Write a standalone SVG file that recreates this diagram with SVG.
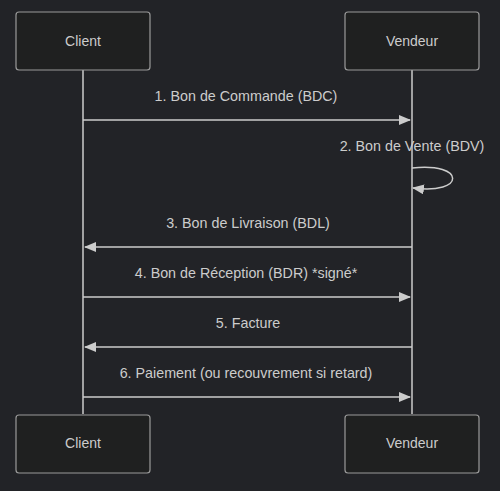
<svg xmlns="http://www.w3.org/2000/svg" width="500" height="491" viewBox="0 0 500 491">
<style>
.actor{fill:#1f2020;stroke:#9a9a9a;stroke-width:1.2}
.atext{font-family:"Liberation Sans",Arial,sans-serif;font-size:14px;fill:#ccc;text-anchor:middle;dominant-baseline:central}
.mtext{font-family:"Liberation Sans",Arial,sans-serif;font-size:14.3px;fill:#ccc;text-anchor:middle;dominant-baseline:central}
.life{stroke:#ccc;stroke-width:1.5}
.msg{stroke:#ccc;stroke-width:1.5;fill:none}
</style>
<defs>
<marker id="arr" viewBox="0 0 12 10" refX="11" refY="5" markerWidth="12" markerHeight="10" markerUnits="userSpaceOnUse" orient="auto">
<path d="M0,0 L12,5 L0,10 z" fill="#ccc"/>
</marker>
</defs>
<rect width="500" height="491" fill="#222327"/>
<g id="lifelines">
<line class="life" x1="83" y1="70" x2="83" y2="414"/>
<line class="life" x1="412" y1="70" x2="412" y2="414"/>
</g>
<g id="client-top"><rect class="actor" x="16" y="12" width="134" height="58" rx="3"/><text class="atext" x="83" y="41">Client</text></g>
<g id="vendeur-top"><rect class="actor" x="345" y="12" width="134" height="58" rx="3"/><text class="atext" x="412" y="41">Vendeur</text></g>
<g id="client-bottom"><rect class="actor" x="16" y="415" width="134" height="58" rx="3"/><text class="atext" x="83" y="443">Client</text></g>
<g id="vendeur-bottom"><rect class="actor" x="345" y="415" width="134" height="58" rx="3"/><text class="atext" x="412" y="443">Vendeur</text></g>
<g id="connectors">
<line class="msg" x1="83" y1="120" x2="410" y2="120" marker-end="url(#arr)"/>
<path class="msg" d="M412,168 C466,162 466,195 413,188" marker-end="url(#arr)"/>
<line class="msg" x1="412" y1="247" x2="85" y2="247" marker-end="url(#arr)"/>
<line class="msg" x1="83" y1="297" x2="410" y2="297" marker-end="url(#arr)"/>
<line class="msg" x1="412" y1="347" x2="85" y2="347" marker-end="url(#arr)"/>
<line class="msg" x1="83" y1="397" x2="410" y2="397" marker-end="url(#arr)"/>
</g>
<g id="labels">
<text class="mtext" x="246" y="96">1. Bon de Commande (BDC)</text>
<text class="mtext" x="412" y="146">2. Bon de Vente (BDV)</text>
<text class="mtext" x="248" y="223">3. Bon de Livraison (BDL)</text>
<text class="mtext" x="246" y="273">4. Bon de Réception (BDR) *signé*</text>
<text class="mtext" x="248" y="323">5. Facture</text>
<text class="mtext" x="246" y="373">6. Paiement (ou recouvrement si retard)</text>
</g>
</svg>
